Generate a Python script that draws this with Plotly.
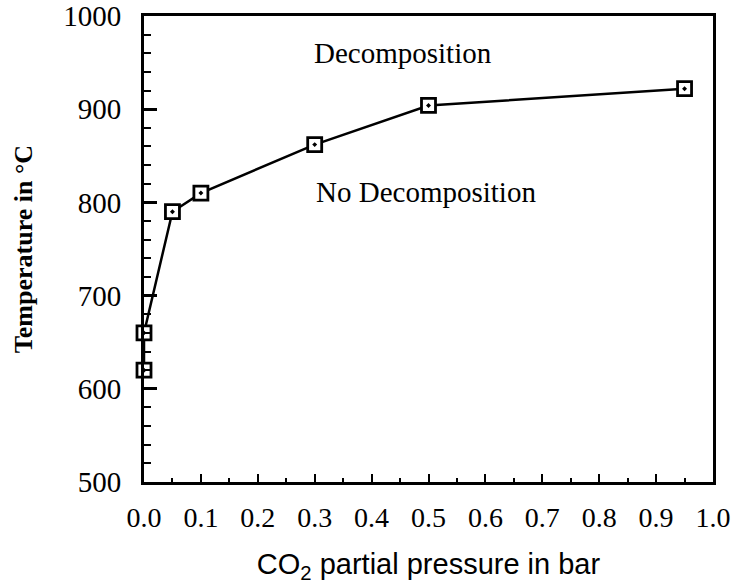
import plotly.graph_objects as go

# Data
co2_pressure = [0.0, 0.0, 0.05, 0.10, 0.30, 0.50, 0.95]
temperature = [620, 660, 790, 810, 862, 904, 922]

x_ticks = [0.0, 0.1, 0.2, 0.3, 0.4, 0.5, 0.6, 0.7, 0.8, 0.9, 1.0]
y_ticks = [500, 600, 700, 800, 900, 1000]

region_labels = ["Decomposition", "No Decomposition"]
region_pos = [(0.455, 960), (0.495, 811)]

serif = "Liberation Serif"

fig = go.Figure()
fig.add_trace(go.Scatter(
    x=co2_pressure, y=temperature,
    mode="lines+markers",
    line=dict(color="black", width=2.5),
    marker=dict(symbol="square-dot", size=14, color="white",
                line=dict(color="black", width=2.8)),
    cliponaxis=False,
    showlegend=False,
))

for txt, (xx, yy) in zip(region_labels, region_pos):
    fig.add_annotation(x=xx, y=yy, text=txt, showarrow=False,
                       font=dict(family=serif, size=29, color="black"))

fig.update_layout(
    width=738, height=584,
    margin=dict(l=144, r=25, t=16, b=102),
    paper_bgcolor="white", plot_bgcolor="white",
    font=dict(family=serif, color="black"),
    xaxis=dict(
        range=[0, 1], tickvals=x_ticks, tickformat=".1f",
        automargin=False,
        showgrid=False, zeroline=False,
        showline=True, linecolor="black", linewidth=2.5, mirror=True,
        ticks="inside", ticklen=8, tickwidth=2, tickcolor="black",
        minor=dict(dtick=0.05, ticks="inside", ticklen=4, tickwidth=2, tickcolor="black"),
        tickfont=dict(family=serif, size=28, color="black"),
        ticklabelstandoff=9,
        title=dict(text="CO<sub>2</sub> partial pressure in bar",
                   font=dict(family="Liberation Sans", size=29, color="black"),
                   standoff=22),
    ),
    yaxis=dict(
        range=[500, 1000], tickvals=y_ticks,
        automargin=False,
        showgrid=False, zeroline=False,
        showline=True, linecolor="black", linewidth=3, mirror=True,
        ticks="inside", ticklen=13, tickwidth=2.5, tickcolor="black",
        minor=dict(dtick=20, ticks="inside", ticklen=7, tickwidth=2, tickcolor="black"),
        tickfont=dict(family=serif, size=29, color="black"),
        ticklabelstandoff=14,
        title=dict(text="<b>Temperature in °C</b>",
                   font=dict(family=serif, size=26, color="black"),
                   standoff=24),
    ),
)

fig.write_html("out.html")
